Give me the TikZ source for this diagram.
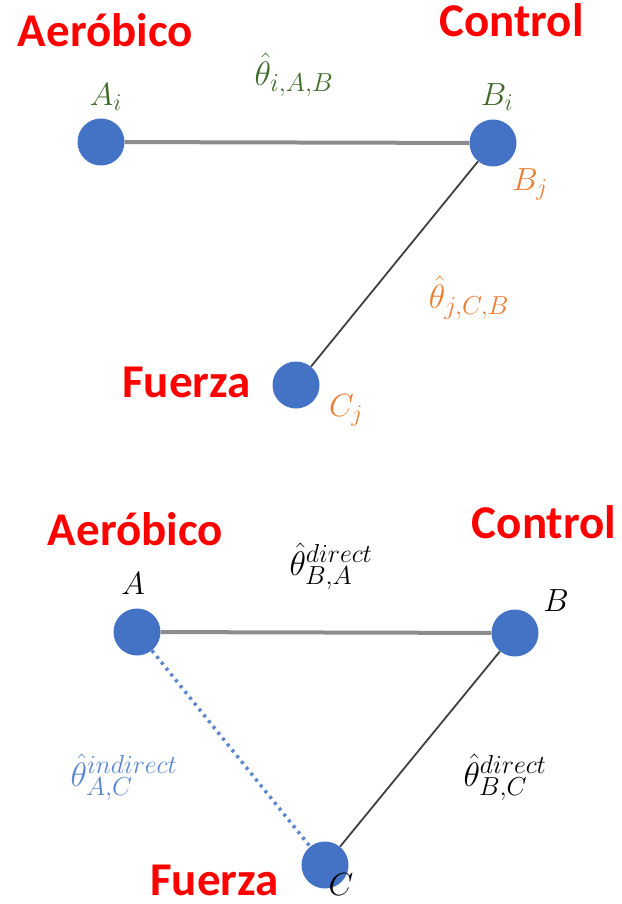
\RequirePackage{fix-cm}
\documentclass[tikz,border=0pt]{standalone}
\usepackage{fontspec}
\usepackage{amsmath}
\newfontfamily\labfont{Carlito}
\DeclareMathSizes{34}{34}{26}{20}
\DeclareMathSizes{32}{32}{24}{18}
\definecolor{nodeblue}{HTML}{4472C4}
\definecolor{lblue}{HTML}{5B87D0}
\definecolor{dgreen}{HTML}{3F6B2A}
\definecolor{orng}{HTML}{ED7D31}
\definecolor{lgray}{HTML}{8C8C8C}
\definecolor{dgray}{HTML}{404040}
\tikzset{
  dot/.style={circle,fill=nodeblue,draw=none,minimum size=47pt,inner sep=0pt},
  grp/.style={text=red,font=\labfont\bfseries\fontsize{47}{52}\selectfont,inner sep=0pt,anchor=base,text depth=0pt},
  mlab/.style={inner sep=0pt,font=\fontsize{32}{38}\selectfont},
  tlab/.style={inner sep=0pt,font=\fontsize{34}{40}\selectfont},
  thick line/.style={draw=lgray,line width=4pt},
  thin line/.style={draw=dgray,line width=1.8pt},
  dotline/.style={draw=lblue,line width=3.5pt,dash pattern=on 3pt off 4.5pt}
}
\begin{document}
\begin{tikzpicture}[x=1pt,y=-1pt]
\useasboundingbox (0,0) rectangle (621,904);
\fill[white] (0,0) rectangle (621,904);
% top diagram
\node[dot] (Ai) at (101,142) {};
\node[dot] (Bi) at (493,143) {};
\node[dot] (Cj) at (296,385) {};
\draw[thick line] (Ai) -- (Bi);
\draw[thin line] (Bi) -- (Cj);
\node[grp] (g1) at (105.5,47) {Aeróbico};
\node[grp] (g2) at (511.5,37) {Control};
\node[grp] (g3) at (186.5,397) {Fuerza};
\node[mlab,text=dgreen] (lAi) at (106,97) {$A_i$};
\node[mlab,text=dgreen] (lBi) at (497,97) {$B_i$};
\node[mlab,text=orng] (lBj) at (530,184) {$B_j$};
\node[mlab,text=orng] (lCj) at (346,410) {$C_j$};
\node[tlab,text=dgreen] (t1) at (294,75) {$\hat\theta_{i,A,B}$};
\node[tlab,text=orng] (t2) at (469,298) {$\hat\theta_{j,C,B}$};
% bottom diagram
\node[dot] (A) at (137,632) {};
\node[dot] (B) at (515,633) {};
\node[dot] (C) at (325,865) {};
\draw[thick line] (A) -- (B);
\draw[thin line] (B) -- (C);
\draw[dotline] (A) -- (C);
\node[grp] (g4) at (135.5,545) {Aeróbico};
\node[grp] (g5) at (544,538) {Control};
\node[grp] (g6) at (214.5,895) {Fuerza};
\node[mlab] (lA) at (133,584) {$A$};
\node[mlab] (lB) at (556,601) {$B$};
\node[mlab] (lC) at (341,885) {$C$};
\node[tlab] (t3) at (331,566) {$\hat\theta^{direct}_{B,A}$};
\node[tlab,text=lblue] (t4) at (124,777) {$\hat\theta^{indirect}_{A,C}$};
\node[tlab] (t5) at (505,777) {$\hat\theta^{direct}_{B,C}$};
\end{tikzpicture}
\end{document}
